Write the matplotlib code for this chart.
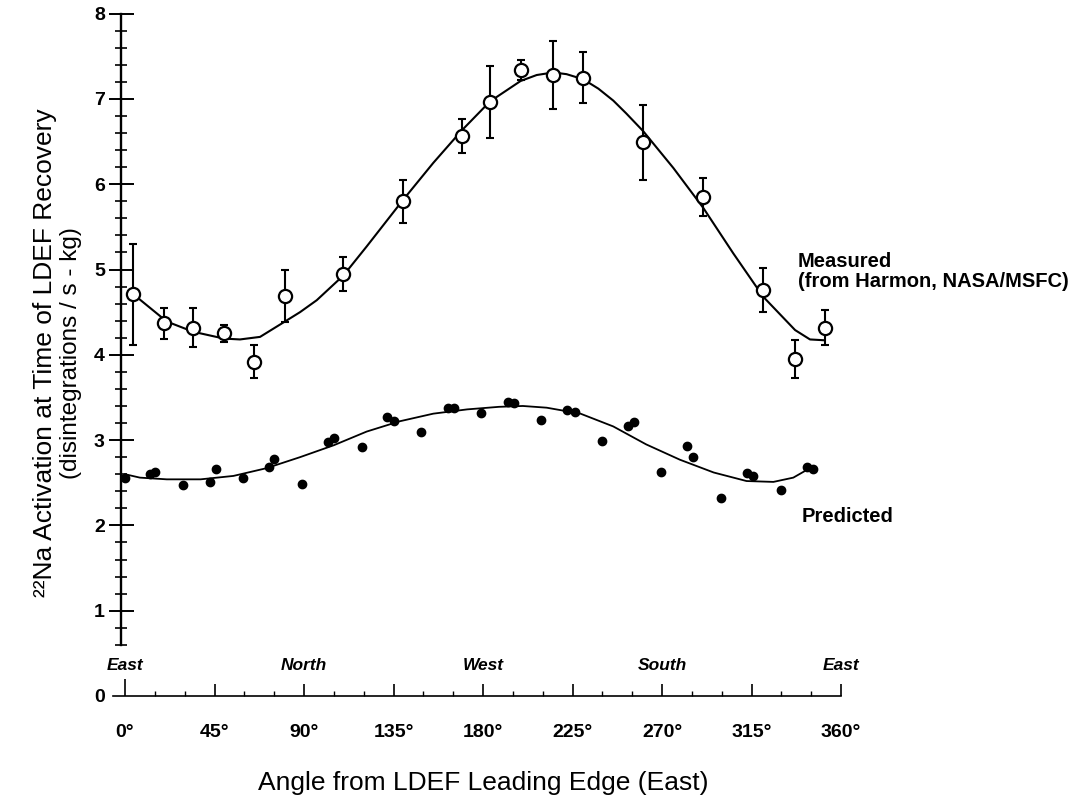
import numpy as np
import matplotlib
matplotlib.use('Agg')
import matplotlib.pyplot as plt
from matplotlib.ticker import FixedLocator

plt.rcParams['font.family'] = ['Liberation Sans', 'DejaVu Sans']

# ---- measured (Harmon, NASA/MSFC): angle (deg), activation, error ----
meas_deg = [4.2, 19.8, 34.0, 49.8, 64.9, 80.4, 109.8, 139.6, 169.3, 183.5,
            198.9, 215.3, 230.4, 260.6, 290.8, 320.9, 336.9, 351.9]
meas_val = [4.71, 4.37, 4.32, 4.25, 3.92, 4.69, 4.95, 5.80, 6.57, 6.96,
            7.34, 7.28, 7.25, 6.49, 5.85, 4.76, 3.95, 4.32]
meas_err = [0.59, 0.18, 0.23, 0.10, 0.19, 0.30, 0.20, 0.25, 0.20, 0.42,
            0.12, 0.40, 0.30, 0.44, 0.22, 0.26, 0.22, 0.21]

# fitted curve through measured points
meas_fit_deg = [4.2, 12.6, 21.0, 34.3, 49.8, 57.8, 67.9, 80.4, 88.0, 96.4,
                109.8, 121.5, 139.6, 155.0, 169.3, 183.5, 198.9, 207.0, 215.3,
                222.0, 230.4, 238.0, 245.5, 252.0, 260.6, 275.7, 290.8, 305.8,
                320.9, 336.9, 344.4, 351.9]
meas_fit_val = [4.71, 4.55, 4.39, 4.27, 4.19, 4.18, 4.21, 4.39, 4.50, 4.64,
                4.93, 5.27, 5.81, 6.25, 6.63, 6.97, 7.21, 7.28, 7.31,
                7.29, 7.23, 7.12, 6.98, 6.83, 6.62, 6.19, 5.72, 5.19,
                4.68, 4.29, 4.18, 4.17]

# ---- predicted ----
pred_deg = [0.0, 12.6, 15.1, 29.3, 42.7, 45.7, 59.5, 72.6, 75.1, 88.8,
            102.2, 105.2, 119.0, 131.9, 135.2, 148.8, 162.6, 165.4, 179.0,
            192.7, 195.7, 209.2, 222.4, 226.2, 239.7, 252.7, 255.9, 269.3,
            282.6, 285.7, 299.6, 312.9, 315.9, 329.7, 342.7, 345.7]
pred_val = [2.56, 2.60, 2.63, 2.47, 2.51, 2.66, 2.56, 2.69, 2.78, 2.49,
            2.98, 3.03, 2.92, 3.27, 3.22, 3.10, 3.38, 3.38, 3.32,
            3.45, 3.43, 3.23, 3.35, 3.33, 2.99, 3.17, 3.21, 2.63,
            2.93, 2.80, 2.32, 2.62, 2.58, 2.42, 2.68, 2.66]

pred_fit_deg = [0.0, 7.5, 21.0, 38.0, 54.5, 71.0, 88.0, 105.0, 121.5, 138.0,
                155.0, 172.0, 188.0, 200.0, 212.0, 229.0, 245.5, 262.0, 279.0,
                296.0, 312.5, 326.0, 336.0, 343.5]
pred_fit_val = [2.60, 2.56, 2.54, 2.54, 2.58, 2.67, 2.80, 2.94, 3.10, 3.22,
                3.31, 3.36, 3.39, 3.40, 3.38, 3.31, 3.16, 2.95, 2.77,
                2.62, 2.52, 2.51, 2.56, 2.66]

x_ticks = [0, 45, 90, 135, 180, 225, 270, 315, 360]
x_ticklabels = ['0°', '45°', '90°', '135°', '180°', '225°', '270°', '315°', '360°']
compass_deg = [0, 90, 180, 270, 360]
compass_names = ['East', 'North', 'West', 'South', 'East']

# ---- figure ----
W, H = 1085, 796
fig = plt.figure(figsize=(W / 100, H / 100), dpi=100)

# pixel anchors: 0 deg -> x=125, 1.989 px/deg ; value 0 -> y=696, 85.3 px/unit
x0, sx = 125.0, 1.989
y0, sy = 696.0, 85.3
xlim = (-10, 365)
ylim = (-0.3, 8.1)
left = (x0 + sx * xlim[0]) / W
right = (x0 + sx * xlim[1]) / W
bottom = 1 - (y0 - sy * ylim[0]) / H
top = 1 - (y0 - sy * ylim[1]) / H
ax = fig.add_axes([left, bottom, right - left, top - bottom])
ax.set_xlim(*xlim)
ax.set_ylim(*ylim)
ax.patch.set_visible(False)

for s in ['top', 'right']:
    ax.spines[s].set_visible(False)
ax.spines['left'].set_position(('data', -1.8))
ax.spines['left'].set_bounds(0.6, 8)
ax.spines['left'].set_linewidth(1.7)
ax.spines['bottom'].set_position(('data', 0))
ax.spines['bottom'].set_bounds(-6, 360)
ax.spines['bottom'].set_linewidth(1.2)

# y ticks
ax.set_yticks(range(0, 9))
ax.set_yticklabels([str(i) for i in range(0, 9)], fontsize=14, fontweight='bold')
minor_y = [v for v in np.arange(0.6, 8.0, 0.2) if abs(v - round(v)) > 0.05]
ax.yaxis.set_minor_locator(FixedLocator(minor_y))
ax.tick_params(axis='y', which='major', direction='inout', length=18, width=1.4, pad=3)
ax.tick_params(axis='y', which='minor', direction='inout', length=8.5, width=1.2)
ax.yaxis.get_major_ticks()[0].tick1line.set_visible(False)

# x ticks
ax.set_xticks(x_ticks)
ax.set_xticklabels(x_ticklabels, fontsize=14, fontweight='bold')
ax.xaxis.set_minor_locator(FixedLocator([d for d in range(15, 360, 15) if d % 45]))
ax.tick_params(axis='x', which='major', direction='in', length=9, width=1.2, pad=20)
ax.tick_params(axis='x', which='minor', direction='in', length=3.8, width=1.0)
ax.xaxis.get_major_ticks()[0].tick1line.set_markersize(12)

# measured
ax.plot(meas_fit_deg, meas_fit_val, color='black', lw=1.5, zorder=2)
ax.errorbar(meas_deg, meas_val, yerr=meas_err, fmt='none', ecolor='black',
            elinewidth=1.5, capsize=3.2, capthick=1.5, zorder=3)
ax.plot(meas_deg, meas_val, 'o', ms=9.5, mfc='white', mec='black', mew=1.6, zorder=4)

# predicted
ax.plot(pred_fit_deg, pred_fit_val, color='black', lw=1.3, zorder=2)
ax.plot(pred_deg, pred_val, 'o', ms=6, color='black', zorder=4)

# compass labels
for d, name in zip(compass_deg, compass_names):
    ax.text(d, 0.36, name, ha='center', va='center', fontsize=12.5,
            fontweight='bold', fontstyle='italic', clip_on=False)

# series labels
ax.text(338.4, 5.09, 'Measured', ha='left', va='center', fontsize=14.5,
        fontweight='bold', clip_on=False)
ax.text(338.4, 4.86, '(from Harmon, NASA/MSFC)', ha='left', va='center',
        fontsize=14.5, fontweight='bold', clip_on=False)
ax.text(340.4, 2.10, 'Predicted', ha='left', va='center', fontsize=14.5,
        fontweight='bold', clip_on=False)

# axis titles
fig.text(483 / W, 1 - 783 / H, 'Angle from LDEF Leading Edge (East)',
         ha='center', va='center', fontsize=19)
fig.text(45 / W, 1 - 353 / H, '²²Na Activation at Time of LDEF Recovery',
         ha='center', va='center', rotation=90, fontsize=19)
fig.text(71 / W, 1 - 353 / H, '(disintegrations / s - kg)',
         ha='center', va='center', rotation=90, fontsize=17.5)

fig.savefig('out.png', dpi=100)
